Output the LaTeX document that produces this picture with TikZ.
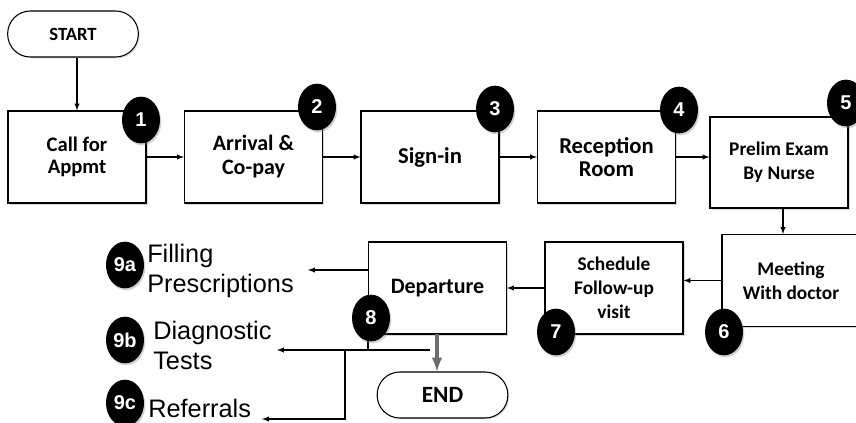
\documentclass[tikz,border=0pt]{standalone}
\usepackage{fontspec}
\setmainfont{Liberation Sans}
\newfontfamily\calfont{Carlito}
\usetikzlibrary{shapes.geometric, shadows}

\tikzset{
  stepbox/.style={draw, thick, fill=white, minimum width=103.5pt, minimum height=69pt,
    align=center, font=\calfont\bfseries\fontsize{17}{17.5}\selectfont,
    drop shadow={opacity=0.3, shadow xshift=1.2pt, shadow yshift=-1.2pt}},
  smallbox/.style={stepbox, font=\calfont\bfseries\fontsize{14.5}{18}\selectfont},
  termbox/.style={draw, thick, fill=white, rounded corners=17pt, minimum width=98pt,
    minimum height=34.5pt, font=\calfont\bfseries\fontsize{14}{14}\selectfont,
    drop shadow={opacity=0.25, shadow xshift=1pt, shadow yshift=-1pt}},
  badge/.style={ellipse, fill=black, text=white, inner sep=0pt, minimum width=28.5pt,
    minimum height=35pt, font=\bfseries\fontsize{15}{15}\selectfont,
    drop shadow={opacity=0.35, shadow xshift=1pt, shadow yshift=-1.5pt}},
  outtext/.style={align=left, inner sep=0pt, font=\fontsize{19}{22.5}\selectfont},
  flow/.style={->, thick}
}

\begin{document}
\begin{tikzpicture}[x=0.75pt, y=-0.75pt, >=latex]
\useasboundingbox (0,0) rectangle (856,423);

% Start and end
\node[termbox] (start) at (73,34) {START};
\node[termbox, font=\calfont\bfseries\fontsize{17.5}{17.5}\selectfont] (finish) at (442.5,395) {END};

% First row
\node[stepbox, font=\calfont\bfseries\fontsize{15.5}{17}\selectfont] (call) at (77,157) {Call for\\Appmt};
\node[stepbox, font=\calfont\bfseries\fontsize{16.5}{18}\selectfont] (arrival) at (253.5,157) {Arrival \&\\Co-pay};
\node[stepbox] (signin) at (430,157) {Sign-in};
\node[stepbox] (reception) at (606.5,157) {Reception\\Room};
\node[smallbox, minimum height=68.25pt] (prelim) at (779,162.5) {Prelim Exam\\By Nurse};

% Second row
\node[smallbox] (meeting) at (791,280.5) {Meeting\\With doctor};
\node[smallbox] (schedule) at (614,288) {Schedule\\Follow-up\\visit};
\node[stepbox, font=\calfont\bfseries\fontsize{16.5}{17}\selectfont] (departure) at (437.5,288) {Departure};

% Outcomes
\node[outtext, anchor=west] (filling) at (147,271) {Filling\\Prescriptions};
\node[outtext, anchor=west] (diagnostic) at (153,345) {Diagnostic\\Tests};
\node[outtext, anchor=base west] (referrals) at (148,417) {Referrals};

\coordinate (fillend) at (308,270);
\coordinate (tap) at (430,350);
\coordinate (testend) at (277,350);
\coordinate (fork) at (345,350);
\coordinate (referend) at (262,419);
\coordinate (drop) at (437,334);

% Connectors
\draw[flow] (start.south -| call.north) -- (call.north);
\draw[flow] (call) -- (arrival);
\draw[flow] (arrival) -- (signin);
\draw[flow] (signin) -- (reception);
\draw[flow] (reception.east) -- (reception.east -| prelim.west);
\draw[flow] ([xshift=3pt]prelim.south) -- ([xshift=3pt]prelim.south |- meeting.north);
\draw[flow] (meeting.west) -- (meeting.west -| schedule.east);
\draw[flow] (schedule) -- (departure);
\draw[flow] (departure.west |- fillend) -- (fillend);
\draw[thick] (departure.south west) -- (departure.south west |- tap);
\draw[flow] (tap) -- (testend);
\draw[flow] (fork) |- (referend);
\draw[->, line width=2.5pt, gray!85!black] (drop) -- (drop |- finish.north);

% Step numbers
\node[badge] (n1) at (141,120) {1};
\node[badge] (n2) at (317,107) {2};
\node[badge] (n3) at (495,109) {3};
\node[badge] (n4) at (679,110) {4};
\node[badge] (n5) at (846,103) {5};
\node[badge] (n6) at (724,332) {6};
\node[badge] (n7) at (556,332) {7};
\node[badge] (n8) at (371,318) {8};
\node[badge] (n9a) at (125,265) {9a};
\node[badge] (n9b) at (125,340) {9b};
\node[badge] (n9c) at (125,403) {9c};
\end{tikzpicture}
\end{document}
